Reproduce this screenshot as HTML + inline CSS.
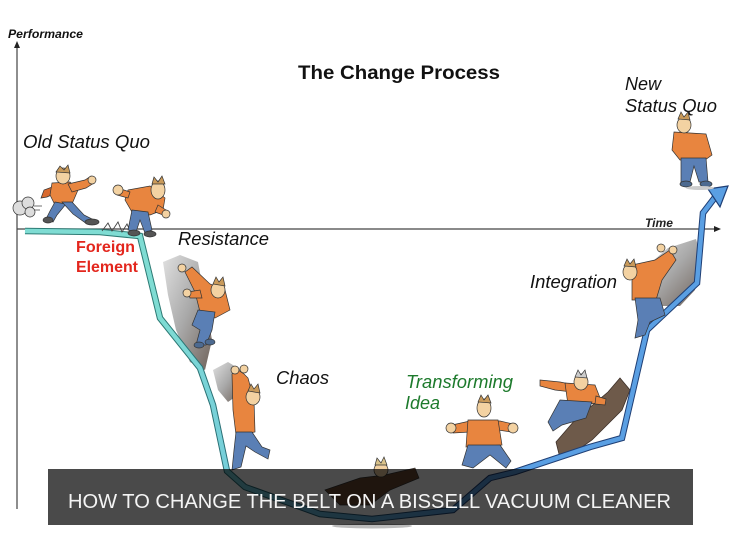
<!DOCTYPE html>
<html><head><meta charset="utf-8"><style>
html,body{margin:0;padding:0;background:#fff;}
svg{display:block;}
text{font-family:"Liberation Sans",Arial,sans-serif;}
</style></head><body>
<svg width="740" height="554" viewBox="0 0 740 554" xmlns="http://www.w3.org/2000/svg">
<defs>
<linearGradient id="lg" gradientUnits="userSpaceOnUse" x1="160" y1="0" x2="480" y2="0">
<stop offset="0" stop-color="#7fdcd3"/><stop offset="0.45" stop-color="#6cbfe0"/><stop offset="1" stop-color="#5a9fe3"/>
</linearGradient>
<linearGradient id="lo" gradientUnits="userSpaceOnUse" x1="160" y1="0" x2="480" y2="0">
<stop offset="0" stop-color="#2c7a74"/><stop offset="1" stop-color="#1f3f75"/>
</linearGradient>
<linearGradient id="rock" x1="0" y1="0" x2="1" y2="1">
<stop offset="0" stop-color="#e0e0e0"/><stop offset="0.5" stop-color="#a9a9a9"/><stop offset="1" stop-color="#6f625a"/>
</linearGradient>
</defs>
<rect width="740" height="554" fill="#fff"/>

<!-- axes -->
<line x1="17" y1="46" x2="17" y2="509" stroke="#444" stroke-width="1.2"/>
<polygon points="17,41 14,48 20,48" fill="#222"/>
<line x1="17" y1="229" x2="716" y2="229" stroke="#444" stroke-width="1.2"/>
<polygon points="721,229 714,226 714,232" fill="#222"/>

<text x="8" y="38" font-size="12" font-weight="bold" font-style="italic" fill="#111" textLength="75" lengthAdjust="spacingAndGlyphs">Performance</text>
<text x="645" y="227" font-size="12" font-style="italic" font-weight="bold" fill="#222" textLength="28" lengthAdjust="spacingAndGlyphs">Time</text>
<text x="298" y="79" font-size="19" font-weight="bold" fill="#111" textLength="202" lengthAdjust="spacingAndGlyphs">The Change Process</text>
<text x="23" y="148" font-size="18" font-style="italic" fill="#111" textLength="127" lengthAdjust="spacingAndGlyphs">Old Status Quo</text>
<text x="625" y="90" font-size="18" font-style="italic" fill="#111">New</text>
<text x="625" y="112" font-size="18" font-style="italic" fill="#111" textLength="92" lengthAdjust="spacingAndGlyphs">Status Quo</text>
<text x="178" y="245" font-size="18" font-style="italic" fill="#111" textLength="91" lengthAdjust="spacingAndGlyphs">Resistance</text>
<text x="76" y="252" font-size="16" font-weight="bold" fill="#e3261d" textLength="59" lengthAdjust="spacingAndGlyphs">Foreign</text>
<text x="76" y="272" font-size="16" font-weight="bold" fill="#e3261d" textLength="62" lengthAdjust="spacingAndGlyphs">Element</text>
<text x="276" y="384" font-size="18" font-style="italic" fill="#111" textLength="53" lengthAdjust="spacingAndGlyphs">Chaos</text>
<text x="530" y="288" font-size="18" font-style="italic" fill="#111" textLength="87" lengthAdjust="spacingAndGlyphs">Integration</text>
<text x="406" y="388" font-size="18" font-style="italic" fill="#1d7a2c" textLength="107" lengthAdjust="spacingAndGlyphs">Transforming</text>
<text x="405" y="409" font-size="18" font-style="italic" fill="#1d7a2c">Idea</text>

<!-- rocks -->
<polygon points="163,262 180,255 198,262 205,300 212,340 205,370 190,362 176,330 168,295" fill="url(#rock)"/>
<polygon points="213,370 228,362 241,370 238,395 228,402 218,390" fill="url(#rock)"/>
<polygon points="640,272 668,248 696,239 701,256 695,290 680,306 656,306" fill="url(#rock)"/>
<!-- log -->
<polygon points="556,442 575,420 608,392 620,378 630,390 622,410 592,440 572,454 560,458" fill="#6e5a4a" stroke="#3d3029" stroke-width="0.8"/>

<!-- curve -->
<g fill="none" stroke-linejoin="miter" stroke-linecap="butt">
<path d="M25,231 L100,232 L140,236 L160,318 L200,368 L213,405 L227,471 L245,487 L320,514 L372,519 L453,510 L490,478 L515,472 L590,447 L622,438 L647,330 L697,283 L703,213 L716,196" stroke="url(#lo)" stroke-width="6.5"/>
<path d="M25,231 L100,232 L140,236 L160,318 L200,368 L213,405 L227,471 L245,487 L320,514 L372,519 L453,510 L490,478 L515,472 L590,447 L622,438 L647,330 L697,283 L703,213 L716,196" stroke="url(#lg)" stroke-width="4.5"/>
</g>
<polygon points="728,186 708,189 720,207" fill="#5a9fe3" stroke="#1f3f75" stroke-width="1.2"/>
<polyline points="102,231 108,223 112,231 118,222 122,232 127,224 131,233" fill="none" stroke="#444" stroke-width="0.9"/>

<g stroke="#333" stroke-width="0.7">
<!-- figure 1 running -->
<circle cx="20" cy="208" r="7" fill="#ddd"/><circle cx="28" cy="203" r="6" fill="#ddd"/><circle cx="30" cy="212" r="5" fill="#ddd"/>
<line x1="34" y1="206" x2="42" y2="206"/><line x1="34" y1="210" x2="40" y2="210"/>
<polygon points="55,186 44,190 41,198 47,197 56,193" fill="#d8692e"/>
<polygon points="52,183 70,182 78,190 72,204 55,205 50,195" fill="#e8853f"/>
<polygon points="68,184 85,180 91,176 94,183 86,188 72,192" fill="#e8853f"/>
<circle cx="92" cy="180" r="4" fill="#f3d2a2"/>
<polygon points="55,202 66,204 57,215 53,222 46,219 50,211" fill="#5a7fb5"/>
<polygon points="62,202 72,202 84,215 92,219 87,224 73,214" fill="#5a7fb5"/>
<ellipse cx="48" cy="220" rx="5" ry="3" fill="#555"/><ellipse cx="92" cy="222" rx="7" ry="3" fill="#555"/>
<ellipse cx="63" cy="176" rx="7" ry="8" fill="#f3d2a2"/>
<path d="M56,172 L60,166 L64,170 L68,165 L70,173 Z" fill="#c99a5a"/>
<!-- figure 2 scared -->
<polygon points="128,190 150,186 165,198 163,210 150,215 132,212 125,200" fill="#e8853f"/>
<polygon points="130,192 118,188 117,195 128,198" fill="#e8853f"/>
<circle cx="118" cy="190" r="5" fill="#f3d2a2"/>
<polygon points="158,205 166,210 163,215 155,212" fill="#e8853f"/>
<circle cx="166" cy="214" r="4" fill="#f3d2a2"/>
<polygon points="132,210 148,212 152,230 145,233 140,220 136,232 128,230" fill="#5a7fb5"/>
<ellipse cx="134" cy="233" rx="6" ry="3" fill="#555"/><ellipse cx="150" cy="234" rx="6" ry="3" fill="#555"/>
<ellipse cx="158" cy="190" rx="7" ry="9" fill="#f3d2a2"/>
<path d="M152,184 L154,177 L158,182 L162,176 L165,184 Z" fill="#c99a5a"/>
<!-- figure 3 climber -->
<polygon points="185,272 192,267 210,284 225,290 230,310 215,318 200,312 195,292" fill="#e8853f"/>
<polygon points="188,292 200,290 202,298 190,298" fill="#e8853f"/>
<circle cx="182" cy="268" r="4" fill="#f3d2a2"/><circle cx="187" cy="293" r="4" fill="#f3d2a2"/>
<polygon points="198,310 215,312 212,330 206,345 196,345 200,330 192,325" fill="#5a7fb5"/>
<ellipse cx="199" cy="345" rx="5" ry="3" fill="#4d6a90"/><ellipse cx="210" cy="342" rx="5" ry="3" fill="#4d6a90"/>
<ellipse cx="218" cy="290" rx="7" ry="8" fill="#f3d2a2"/>
<path d="M213,284 L216,277 L219,282 L223,277 L225,286 Z" fill="#c99a5a"/>
<!-- figure 4 chaos -->
<polygon points="232,374 238,370 244,374 248,378 254,400 255,432 236,435 233,410" fill="#e8853f"/>
<circle cx="235" cy="370" r="4" fill="#f3d2a2"/><circle cx="244" cy="369" r="4" fill="#f3d2a2"/>
<polygon points="236,432 252,432 262,447 270,450 268,459 255,452 246,446 241,467 232,470 234,450" fill="#5a7fb5"/>
<ellipse cx="253" cy="397" rx="7" ry="8" fill="#f3d2a2"/>
<path d="M248,391 L251,384 L254,389 L258,384 L260,393 Z" fill="#c99a5a"/>
<!-- figure 5 fallen -->
<polygon points="325,490 360,478 385,475 415,468 419,478 390,490 370,505 340,505" fill="#6b4a30"/>
<ellipse cx="381" cy="470" rx="7" ry="7" fill="#f3d2a2"/>
<path d="M375,465 L377,458 L381,463 L384,457 L387,465 Z" fill="#d9c28a"/>
<!-- figure 6 transforming -->
<polygon points="452,425 470,421 500,421 513,424 511,432 498,430 470,432 453,433" fill="#e8853f"/>
<circle cx="451" cy="428" r="5" fill="#f3d2a2"/><circle cx="513" cy="428" r="5" fill="#f3d2a2"/>
<polygon points="468,420 498,420 502,445 466,447" fill="#e8853f"/>
<polygon points="468,445 500,445 511,461 506,468 490,455 473,468 462,465" fill="#5a7fb5"/>
<ellipse cx="484" cy="408" rx="7" ry="9" fill="#f3d2a2"/>
<path d="M478,402 L481,395 L484,400 L488,395 L491,403 Z" fill="#c99a5a"/>
<!-- figure 7 log -->
<polygon points="540,380 560,382 575,385 572,392 555,390 540,386" fill="#e8853f"/>
<polygon points="565,383 595,385 602,403 568,405" fill="#e8853f"/>
<polygon points="596,396 606,399 605,405 595,404" fill="#e8853f"/>
<polygon points="560,400 592,402 586,418 562,425 553,431 548,422" fill="#5a7fb5"/>
<ellipse cx="581" cy="382" rx="7" ry="8" fill="#f3d2a2"/>
<path d="M575,377 L578,370 L581,375 L585,370 L587,378 Z" fill="#ccc"/>
<!-- figure 8 integration -->
<polygon points="632,265 655,260 670,250 676,260 662,280 656,300 632,300" fill="#e8853f"/>
<circle cx="661" cy="248" r="4" fill="#f3d2a2"/><circle cx="673" cy="250" r="4" fill="#f3d2a2"/>
<polygon points="635,298 660,298 665,315 650,322 645,335 635,338 638,320" fill="#5a7fb5"/>
<ellipse cx="630" cy="272" rx="7" ry="8" fill="#f3d2a2"/>
<path d="M624,266 L627,259 L630,264 L634,259 L636,267 Z" fill="#c99a5a"/>
<!-- figure 9 new status quo -->
<polygon points="674,132 706,134 712,155 705,160 680,160 672,150" fill="#e8853f"/>
<polygon points="681,158 706,158 708,182 699,182 694,166 690,182 681,182" fill="#5a7fb5"/>
<ellipse cx="686" cy="184" rx="6" ry="3" fill="#4d6a90"/><ellipse cx="706" cy="184" rx="6" ry="3" fill="#4d6a90"/>
<ellipse cx="684" cy="125" rx="7" ry="8" fill="#f3d2a2"/>
<path d="M678,119 L681,112 L684,117 L688,112 L690,120 Z" fill="#c99a5a"/>
</g>
<ellipse cx="372" cy="526" rx="40" ry="2.5" fill="#bbb"/>
<ellipse cx="700" cy="188" rx="14" ry="2" fill="#ccc"/>

<!-- banner -->
<rect x="48" y="469" width="645" height="56" fill="rgba(0,0,0,0.71)"/>
<text x="68" y="508" font-size="20" fill="#f4f4f4" textLength="603" lengthAdjust="spacingAndGlyphs">HOW TO CHANGE THE BELT ON A BISSELL VACUUM CLEANER</text>
</svg>
</body></html>
